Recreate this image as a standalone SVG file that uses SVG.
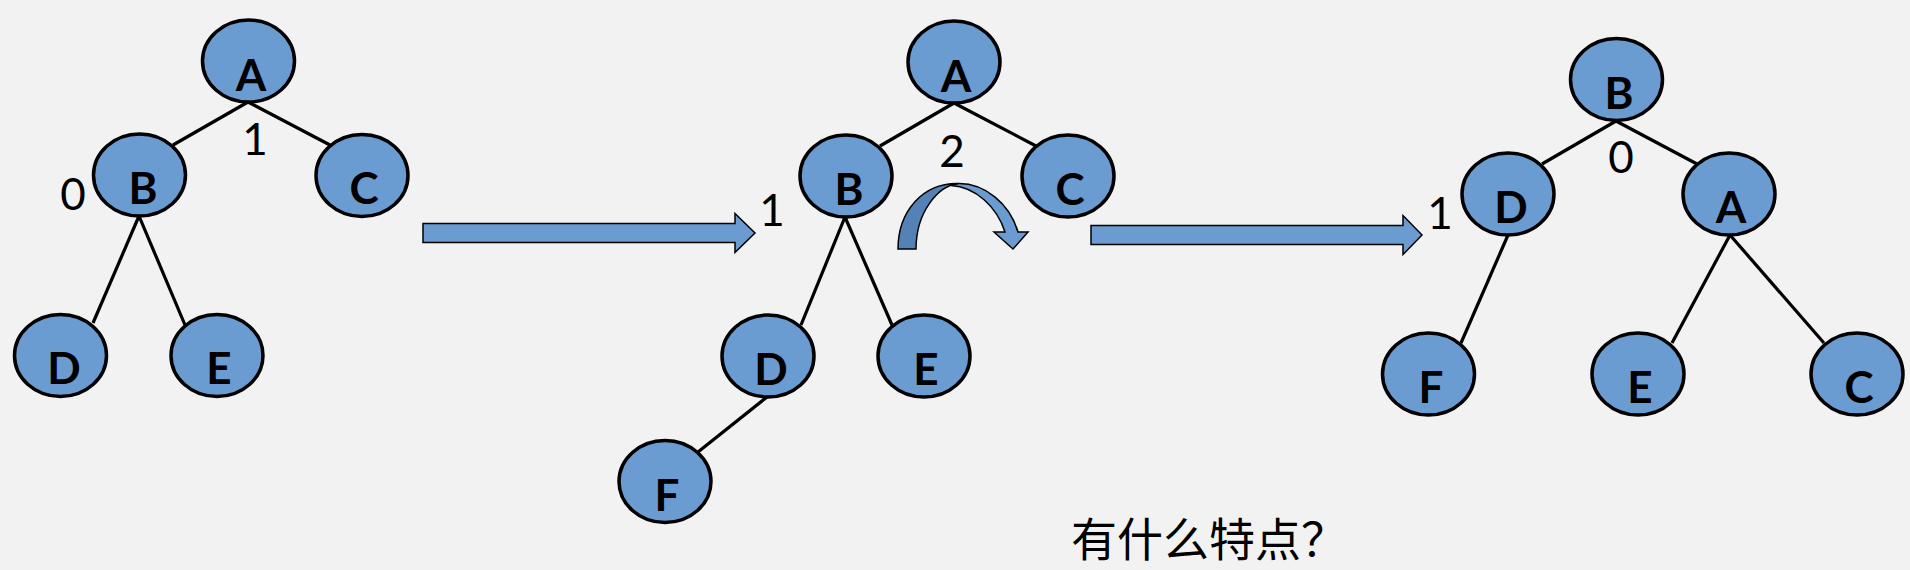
<svg xmlns="http://www.w3.org/2000/svg" width="1910" height="570" viewBox="0 0 1910 570">
<style>
.n{fill:#6a9bd1;stroke:#000;stroke-width:3.5}
.t{font-family:Lato,"Open Sans",sans-serif;font-size:44px;fill:#000;text-anchor:middle}
.b{font-weight:bold}
.e{stroke:#000;stroke-width:3.2;fill:none}
.ar{fill:#6a9bd1;stroke:#000;stroke-width:1.5;stroke-linejoin:miter}
.cjk{font-family:"Noto Sans CJK SC",sans-serif;font-size:46px;fill:#000}
</style>
<rect width="1910" height="570" fill="#f2f2f2"/>
<g id="connectors">
<line class="e" x1="248" y1="102" x2="173" y2="145"/>
<line class="e" x1="248" y1="102" x2="330" y2="145"/>
<line class="e" x1="139" y1="216" x2="93" y2="323"/>
<line class="e" x1="139" y1="216" x2="185" y2="325"/>
<line class="e" x1="954" y1="103" x2="880" y2="146"/>
<line class="e" x1="954" y1="103" x2="1036" y2="146"/>
<line class="e" x1="845" y1="217" x2="801" y2="325"/>
<line class="e" x1="845" y1="217" x2="892" y2="325"/>
<line class="e" x1="767" y1="397" x2="698" y2="452"/>
<line class="e" x1="1616" y1="121" x2="1542" y2="164"/>
<line class="e" x1="1616" y1="121" x2="1697" y2="164"/>
<line class="e" x1="1508" y1="235" x2="1461" y2="343"/>
<line class="e" x1="1730" y1="235" x2="1672" y2="343"/>
<line class="e" x1="1730" y1="235" x2="1824" y2="343"/>
</g>
<g id="tree1">
<g id="t1-A"><ellipse class="n" cx="248.5" cy="61" rx="46" ry="41"/><text class="t b" x="251" y="91">A</text></g>
<g id="t1-B"><ellipse class="n" cx="139.5" cy="175" rx="46" ry="41"/><text class="t b" x="143" y="204">B</text></g>
<g id="t1-C"><ellipse class="n" cx="362" cy="175.5" rx="46" ry="41"/><text class="t b" x="364" y="204">C</text></g>
<g id="t1-D"><ellipse class="n" cx="60.5" cy="355.5" rx="46" ry="41"/><text class="t b" x="64" y="384">D</text></g>
<g id="t1-E"><ellipse class="n" cx="217" cy="355.5" rx="46" ry="41"/><text class="t b" x="219" y="384">E</text></g>
<text class="t" x="255" y="155">1</text>
<text class="t" x="73" y="210">0</text>
</g>
<g id="arrow1"><path class="ar" d="M423,223.5 H735 V213.5 L755,233 L735,252.5 V242.5 H423 Z"/></g>
<g id="tree2">
<g id="t2-A"><ellipse class="n" cx="954" cy="62" rx="46" ry="41"/><text class="t b" x="956" y="92">A</text></g>
<g id="t2-B"><ellipse class="n" cx="846" cy="176" rx="46" ry="41"/><text class="t b" x="849" y="205">B</text></g>
<g id="t2-C"><ellipse class="n" cx="1068" cy="176" rx="46" ry="41"/><text class="t b" x="1070" y="205">C</text></g>
<g id="t2-D"><ellipse class="n" cx="768" cy="356" rx="46" ry="41"/><text class="t b" x="771" y="385">D</text></g>
<g id="t2-E"><ellipse class="n" cx="924" cy="356" rx="46" ry="41"/><text class="t b" x="926" y="385">E</text></g>
<g id="t2-F"><ellipse class="n" cx="665" cy="481.5" rx="46" ry="41"/><text class="t b" x="667" y="511">F</text></g>
<text class="t" x="952" y="167">2</text>
<text class="t" x="772" y="226">1</text>
<g id="rotate">
<path d="M958,183.5 C985,183 1010,204 1018,232 L1028,232 L1013,249 L994,232 L1005,232 C997,207 976,187 951,185.5 Z" fill="#6a9bd1" stroke="#000" stroke-width="1.5"/>
<path d="M898,249 C898,212 922,183 958,183.5 C938,186 916,212 916,249 Z" fill="#5582b6" stroke="#000" stroke-width="1.5"/>
</g>
</g>
<g id="arrow2"><path class="ar" d="M1091,225.5 H1403 V215.5 L1422,235 L1403,254.5 V244.5 H1091 Z"/></g>
<g id="tree3">
<g id="t3-B"><ellipse class="n" cx="1616.5" cy="79.5" rx="46" ry="41"/><text class="t b" x="1619" y="109">B</text></g>
<g id="t3-D"><ellipse class="n" cx="1508" cy="194" rx="46" ry="41"/><text class="t b" x="1511" y="223">D</text></g>
<g id="t3-A"><ellipse class="n" cx="1729" cy="194" rx="46" ry="41"/><text class="t b" x="1731" y="223">A</text></g>
<g id="t3-F"><ellipse class="n" cx="1428.5" cy="374" rx="46" ry="41"/><text class="t b" x="1431" y="403">F</text></g>
<g id="t3-E"><ellipse class="n" cx="1638" cy="374" rx="46" ry="41"/><text class="t b" x="1640" y="403">E</text></g>
<g id="t3-C"><ellipse class="n" cx="1857" cy="374" rx="46" ry="41"/><text class="t b" x="1859" y="403">C</text></g>
<text class="t" x="1440" y="229">1</text>
<text class="t" x="1621" y="173">0</text>
</g>
<text class="cjk" x="1071" y="556">有什么特点？</text>
</svg>
